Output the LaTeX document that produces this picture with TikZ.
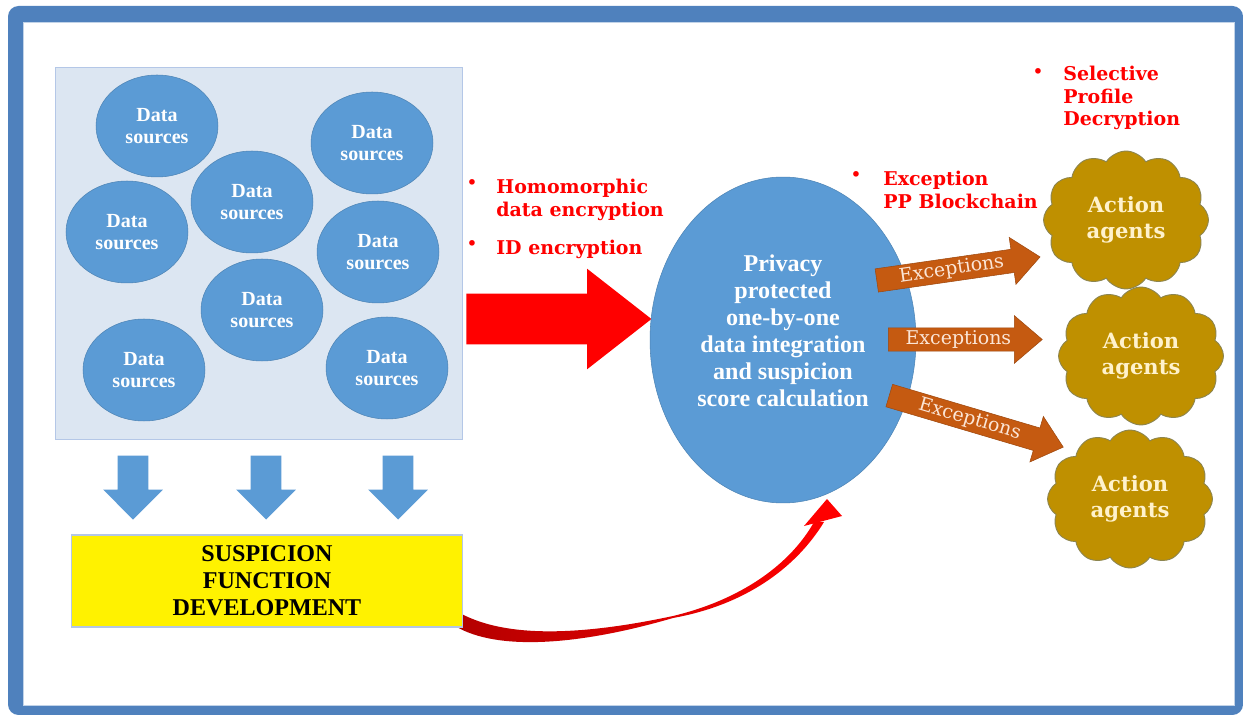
\documentclass[tikz,border=0pt]{standalone}
\usepackage{fontspec}
\setmainfont{Liberation Serif}
\newfontfamily\wideserif{DejaVu Serif}
\usepackage{tikz}
\usetikzlibrary{positioning,calc}
\usetikzlibrary{shapes.geometric, shapes.arrows, shapes.symbols}

\definecolor{frameblue}{HTML}{4F81BD}
\definecolor{boxblue}{HTML}{DCE6F2}
\definecolor{boxedge}{HTML}{B4C7E7}
\definecolor{srcblue}{HTML}{5B9BD5}
\definecolor{excorange}{HTML}{C55A11}
\definecolor{exctext}{HTML}{FBE5D6}
\definecolor{agentgold}{HTML}{BF9000}
\definecolor{agentedge}{HTML}{8C8550}
\definecolor{agenttext}{HTML}{FFF2CC}

\tikzstyle{databox} = [rectangle, fill=boxblue, draw=boxedge, line width=0.6pt,
minimum width=8.16cm, minimum height=7.46cm]
\tikzstyle{source} = [ellipse, fill=srcblue, draw=srcblue!85!black, line width=0.3pt,
minimum width=2.44cm, minimum height=2.04cm, inner sep=0pt,
text=white, align=center, font=\fontsize{11.4}{12.5}\selectfont\bfseries]
\tikzstyle{downarrow} = [single arrow, rotate=-90, fill=srcblue, draw=none,
minimum height=1.28cm, single arrow head extend=0.29cm,
single arrow tip angle=90, inner xsep=0pt, inner ysep=0.3cm]
\tikzstyle{bigarrow} = [single arrow, fill=red, draw=none,
minimum height=3.7cm, single arrow head extend=0.5cm,
single arrow tip angle=76, inner xsep=0pt, inner ysep=0.5cm]
\tikzstyle{sfdbox} = [rectangle, fill=yellow, draw=boxedge, line width=0.6pt,
minimum width=7.84cm, minimum height=1.84cm, align=center,
font=\fontsize{13.7}{15.4}\selectfont\bfseries]
\tikzstyle{core} = [ellipse, fill=srcblue, draw=srcblue!85!black, line width=0.3pt,
minimum width=5.32cm, minimum height=6.52cm, inner sep=0pt]
\tikzstyle{coretext} = [text=white, align=center, inner sep=0pt,
font=\fontsize{13.7}{15.4}\selectfont\bfseries]
\tikzstyle{exception} = [single arrow, fill=excorange, draw=excorange!80!black, line width=0.3pt,
single arrow head extend=0.24cm, single arrow tip angle=81,
inner xsep=2pt, inner ysep=0.05cm, text=exctext,
font=\wideserif\fontsize{10.8}{12}\selectfont]
\tikzstyle{agent} = [cloud, cloud puffs=12, cloud puff arc=115, cloud ignores aspect,
fill=agentgold, draw=agentedge, line width=0.5pt,
minimum width=3.3cm, minimum height=2.76cm, inner sep=0pt,
text=agenttext, align=center, font=\wideserif\fontsize{12}{14.8}\selectfont\bfseries]
\tikzstyle{note} = [text=red, align=left, inner sep=0pt, anchor=north west,
font=\wideserif\fontsize{10.8}{12.8}\selectfont\bfseries]
\tikzstyle{dot} = [text=red, inner sep=0pt, font=\wideserif\fontsize{11}{12}\selectfont]

\begin{document}
\begin{tikzpicture}[x=0.02cm, y=-0.02cm]
	% 1 unit = 1 px of the original slide, y goes down
	\useasboundingbox (0,0) rectangle (1243,715);
	
	% ---- 1. Frame ----
	\fill[frameblue, rounded corners=6pt] (8,6) rectangle (1243,715);
	\filldraw[fill=white, draw=frameblue!35] (23,22) rectangle (1234,705);
	
	% ---- 2. Data sources ----
	\node[databox] (sources) at (259,253.5) {};
	\node[source] (src1) at (157,126) {Data\\sources};
	\node[source] (src2) at (372,143) {Data\\sources};
	\node[source] (src3) at (252,202) {Data\\sources};
	\node[source] (src4) at (127,232) {Data\\sources};
	\node[source] (src5) at (378,252) {Data\\sources};
	\node[source] (src6) at (262,310) {Data\\sources};
	\node[source] (src7) at (144,370) {Data\\sources};
	\node[source] (src8) at (387,368) {Data\\sources};
	
	% arrows down to the suspicion function
	\node[downarrow, anchor=tip] (down1) at (133,520) {};
	\node[downarrow, anchor=tip] (down2) at (266,520) {};
	\node[downarrow, anchor=tip] (down3) at (398,520) {};
	
	% ---- 3. Curved red arrow (drawn under the yellow box) ----
	\shade[left color=red!70!black, right color=red]
	(458,612) .. controls (500,636) and (570,638) .. (673,616)
	.. controls (740,600) and (790,565) .. (814,522)
	-- (824,522) .. controls (796,568) and (745,605) .. (673,618)
	.. controls (570,648) and (490,650) .. (452,624) -- cycle;
	\fill[red] (827,499) -- (842,516) -- (804,526) -- cycle;
	
	\node[sfdbox] (sfd) at (267,581) {SUSPICION\\FUNCTION\\DEVELOPMENT};
	
	% ---- 4. Encryption and integration ----
	\node[bigarrow, anchor=tip] (encarrow) at (652,319) {};
	
	\node[dot] (dothomo) at (472,185) {•};
	\node[note] (homo) at (496,179) {Homomorphic\\data encryption};
	\node[dot] (dotid) at (472,246) {•};
	\node[note] (idenc) at (496,240) {ID encryption};
	
	\node[core] (core) at (783,340) {};
	\node[coretext] (coretxt) at (783,331) {Privacy\\protected\\one-by-one\\data integration\\and suspicion\\score calculation};
	
	% ---- 5. Exceptions and action agents ----
	\node[dot] (dotpp) at (856,177) {•};
	\node[note] (ppbc) at (883,171) {Exception\\PP Blockchain};
	\node[dot] (dotsel) at (1038,74) {•};
	\node[note] (selective) at (1063,66) {Selective\\Profile\\Decryption};
	
	\node[agent] (agent1) at (1126,220) {Action\\agents};
	\node[agent] (agent2) at (1141,356) {Action\\agents};
	\node[agent] (agent3) at (1130,499) {Action\\agents};
	
	\node[exception, minimum height=3.3cm, rotate=8.2, anchor=tail] (exc1) at (876.5,280.5) {Exceptions};
	\node[exception, minimum height=3.08cm, anchor=tail] (exc2) at (888,339.5) {Exceptions};
	\node[exception, minimum height=3.63cm, rotate=-16.5, anchor=tail] (exc3) at (889,395.5) {Exceptions};
	
\end{tikzpicture}
\end{document}
